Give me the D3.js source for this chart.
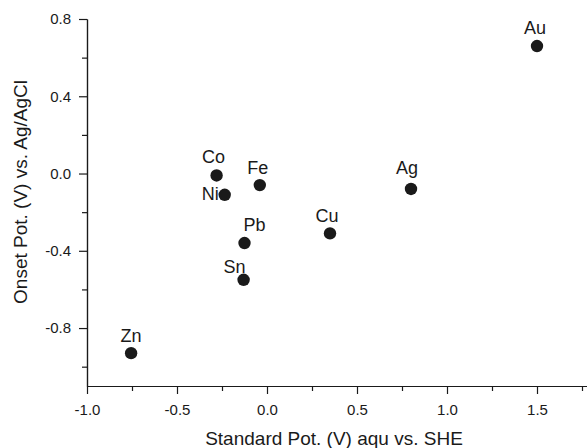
<!DOCTYPE html>
<html>
<head>
<meta charset="utf-8">
<script src="https://cdn.jsdelivr.net/npm/d3@7"></script>
<style>
  body { margin: 0; background: #fff; }
  svg { display: block; font-family: "Liberation Sans", Arial, sans-serif; }
</style>
</head>
<body>
<svg id="chart" width="587" height="448"></svg>
<script>
const CHART_WIDTH = 587;
const CHART_HEIGHT = 448;
const MARGIN = { left: 87, bottom: 62, top: 19, right: -4 };

// data
const metals = ['Au', 'Ag', 'Cu', 'Fe', 'Co', 'Ni', 'Pb', 'Sn', 'Zn'];
const standardPot = [1.50, 0.80, 0.35, -0.04, -0.28, -0.235, -0.125, -0.13, -0.755];
const onsetPot = [0.66, -0.08, -0.31, -0.06, -0.01, -0.11, -0.36, -0.55, -0.93];

const xTicks = [-1.0, -0.5, 0.0, 0.5, 1.0, 1.5];
const yTicks = [-0.8, -0.4, 0.0, 0.4, 0.8];

// where each label sits relative to its dot
const labelPos = {
  Au: { dx: -2, dy: -12, anchor: 'middle' },
  Ag: { dx: -4, dy: -15, anchor: 'middle' },
  Cu: { dx: -3, dy: -11, anchor: 'middle' },
  Fe: { dx: -2, dy: -11, anchor: 'middle' },
  Co: { dx: -3, dy: -12, anchor: 'middle' },
  Ni: { dx: -6, dy: 5, anchor: 'end' },
  Pb: { dx: 10, dy: -12, anchor: 'middle' },
  Sn: { dx: -9, dy: -7, anchor: 'middle' },
  Zn: { dx: 0, dy: -11, anchor: 'middle' }
};

const data = metals.map((m, i) => ({ name: m, x: standardPot[i], y: onsetPot[i] }));

const svg = d3.select('#chart');

const xScale = d3.scaleLinear()
  .domain([-1.0, 1.8])
  .range([MARGIN.left, CHART_WIDTH - MARGIN.right]);

const yScale = d3.scaleLinear()
  .domain([-1.1, 0.8])
  .range([CHART_HEIGHT - MARGIN.bottom, MARGIN.top]);

const ink = '#1a1a1a';
// plain hyphen for negatives, like the original
const fmt = d => d.toFixed(1);

function styleAxis(g) {
  g.select('.domain').attr('stroke', ink).attr('stroke-width', 1.2);
  g.selectAll('.tick line').attr('stroke', ink).attr('stroke-width', 1.2);
  g.selectAll('.tick text').attr('fill', ink).style('font-size', '15px');
}

// minor ticks first, major ticks drawn over them
svg.append('g')
  .attr('transform', `translate(0,${CHART_HEIGHT - MARGIN.bottom})`)
  .call(d3.axisBottom(xScale).tickValues(d3.range(-0.75, 1.8, 0.5)).tickSize(5).tickFormat('').tickSizeOuter(0))
  .call(styleAxis);

svg.append('g')
  .attr('transform', `translate(${MARGIN.left},0)`)
  .call(d3.axisLeft(yScale).tickValues([-1.0, -0.6, -0.2, 0.2, 0.6]).tickSize(5).tickFormat('').tickSizeOuter(0))
  .call(styleAxis);

svg.append('g')
  .attr('transform', `translate(0,${CHART_HEIGHT - MARGIN.bottom})`)
  .call(d3.axisBottom(xScale).tickValues(xTicks).tickSize(8).tickPadding(10).tickFormat(fmt).tickSizeOuter(0))
  .call(styleAxis);

svg.append('g')
  .attr('transform', `translate(${MARGIN.left},0)`)
  .call(d3.axisLeft(yScale).tickValues(yTicks).tickSize(8).tickPadding(8).tickFormat(fmt).tickSizeOuter(0))
  .call(styleAxis);

// axis titles
svg.append('text')
  .attr('x', 334)
  .attr('y', 445)
  .attr('text-anchor', 'middle')
  .attr('fill', ink)
  .style('font-size', '19px')
  .text('Standard Pot. (V) aqu vs. SHE');

svg.append('text')
  .attr('transform', 'translate(27,192) rotate(-90)')
  .attr('text-anchor', 'middle')
  .attr('fill', ink)
  .style('font-size', '19px')
  .text('Onset Pot. (V) vs. Ag/AgCl');

// labels then dots
svg.selectAll('.label')
  .data(data)
  .join('text')
  .attr('class', 'label')
  .attr('x', d => xScale(d.x) + labelPos[d.name].dx)
  .attr('y', d => yScale(d.y) + labelPos[d.name].dy)
  .attr('text-anchor', d => labelPos[d.name].anchor)
  .attr('fill', ink)
  .style('font-size', '18px')
  .text(d => d.name);

svg.selectAll('circle')
  .data(data)
  .join('circle')
  .attr('cx', d => xScale(d.x))
  .attr('cy', d => yScale(d.y))
  .attr('r', 6.2)
  .attr('fill', ink);
</script>
</body>
</html>
